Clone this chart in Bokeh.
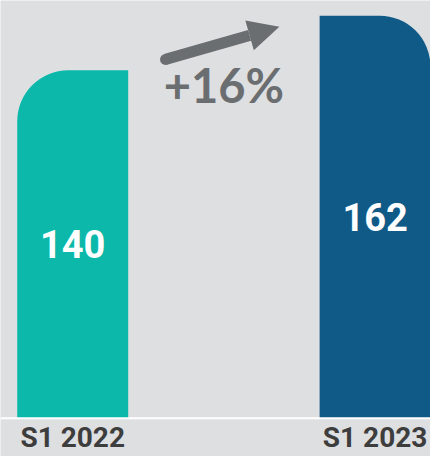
from bokeh.plotting import figure
from bokeh.models import Range1d, Span, Arrow, NormalHead
from bokeh.core.properties import value
from bokeh.embed import file_html
from bokeh.resources import INLINE

# ---- data ----
periods = ["S1 2022", "S1 2023"]
amounts = [140, 162]
bar_colors = ["#0bb8a9", "#105a88"]

# ---- styles ----
BG = "#dedfe1"
GRAY = "#6b6e70"
LABEL = "#3d3d3d"
corner_radii = [(51, 0, 0, 0), (0, 51, 0, 0)]
BAR_W = 0.367

xs = list(range(len(periods)))
mid = sum(xs) / len(xs)
growth = round((amounts[1] / amounts[0] - 1) * 100)
growth_label = f"+{growth}%"

p = figure(width=430, height=456, output_backend="svg", toolbar_location=None,
           x_range=Range1d(-0.2388, 1.1832), y_range=Range1d(-15.42, 168.1),
           min_border=0, x_axis_type=None, y_axis_type=None)
p.background_fill_color = BG
p.border_fill_color = BG
p.outline_line_color = None

for x, a, c, r in zip(xs, amounts, bar_colors, corner_radii):
    p.vbar(x=[x], top=[a], bottom=0, width=BAR_W, fill_color=c, line_color=None,
           border_radius=r)

p.add_layout(Span(location=0, dimension="width", line_color="white", line_width=2))

# value labels
p.text(x=xs, y=[a / 2 for a in amounts], text=[str(a) for a in amounts],
       text_color="white", text_font=value("Roboto"), text_font_style="bold",
       text_font_size="38px", text_align="center", text_baseline="middle")

# category labels
p.text(x=xs, y=[0] * len(xs), text=periods, y_offset=19,
       text_color=LABEL, text_font=value("Roboto"), text_font_style="bold",
       text_font_size="28px", text_align="center", text_baseline="middle")

# growth label
p.text(x=[mid], y=[amounts[0]], y_offset=15, text=[growth_label],
       text_color=GRAY, text_font=value("Lato"), text_font_style="bold",
       text_font_size="47px", text_align="center", text_baseline="middle")

# growth arrow (round tail + triangular head)
ax0, ay0 = mid - 0.193, amounts[0] + 4.4
ax1, ay1 = mid + 0.1835, amounts[1] - 4.5
p.add_layout(Arrow(x_start=ax0, y_start=ay0, x_end=ax1, y_end=ay1,
                   line_color=GRAY, line_width=11, line_cap="butt",
                   end=NormalHead(size=31, fill_color=GRAY, line_color=None)))
p.scatter(x=[ax0], y=[ay0], size=11, marker="circle", fill_color=GRAY, line_color=None)

open("out.html", "w").write(file_html(p, INLINE))
